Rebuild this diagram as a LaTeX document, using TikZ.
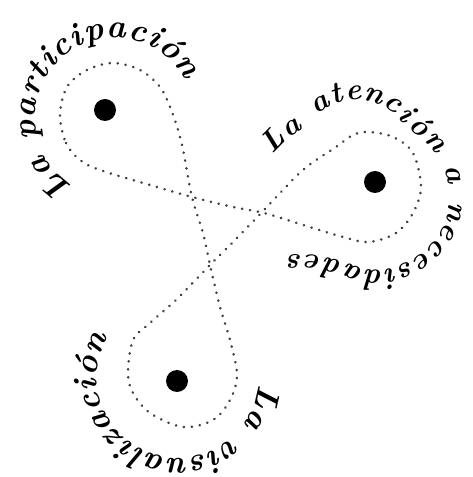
\documentclass[tikz,border=0pt]{standalone}
\usetikzlibrary{decorations.text}
\newcommand\labfont{\fontsize{33}{35}\selectfont\bfseries\itshape}
\newcommand\labfontb{\fontsize{30}{32}\selectfont\bfseries\itshape}
\tikzset{
  loopline/.style={draw=black!75, line width=2.7pt, line cap=round, dash pattern=on 0.2pt off 7.8pt},
  blob/.style={circle, fill=black, inner sep=0pt, minimum size=22pt},
  arctext/.style={decorate, decoration={text along path, text align={fit to path}, text={|\labfont|#1}}},
  arctextmid/.style={decorate, decoration={text along path, raise=-7pt, text align={fit to path}, text={|\labfontb|#1}}}
}
\begin{document}
\begin{tikzpicture}[x=1pt,y=1pt]
\useasboundingbox (0,0) rectangle (473,477);
\begin{scope}[yshift=477pt, y=-1pt]
  \node[blob] (d1) at (105,110) {};
  \node[blob] (d2) at (375,182) {};
  \node[blob] (d3) at (177,381) {};
  \draw[loopline] plot[smooth cycle, tension=0.55] coordinates {
    (60,115) (66,143) (80,160) (100,170) (150,185) (192,197) (233,207) (264,213)
    (300,224) (343,237) (369,242) (396,233) (413,213) (421,187) (413,153) (393,137)
    (369,132) (353,135) (336,147) (303,170) (264,210) (237,238) (210,265) (177,299)
    (150,323) (133,340) (128,373) (133,393) (150,413) (183,427) (213,420) (230,400)
    (237,375) (230,340) (220,307) (210,265) (203,233) (192,197) (182,145) (172,112)
    (160,87) (140,70) (113,63) (87,70) (67,87)
  };
\end{scope}
\coordinate (c1) at (115,359);
\coordinate (c3) at (178,100);
\path[arctext={La participación}] ([shift={(238:80pt)}]c1) arc[start angle=238, end angle=28, radius=80pt];
\path[arctext={La visualización}] ([shift={(-5:81pt)}]c3) arc[start angle=-5, end angle=-210, radius=81pt];
\path[arctextmid={La atención a necesidades}] plot[smooth, tension=0.6] coordinates {
  (268,327) (285,344) (300,355) (320,373) (345,383) (365,384) (390,375) (412,355)
  (435,335) (450,312) (456,282) (452,252) (437,229) (415,211) (390,201) (365,201)
  (340,209) (310,215) (288,215)
};
\end{tikzpicture}
\end{document}
